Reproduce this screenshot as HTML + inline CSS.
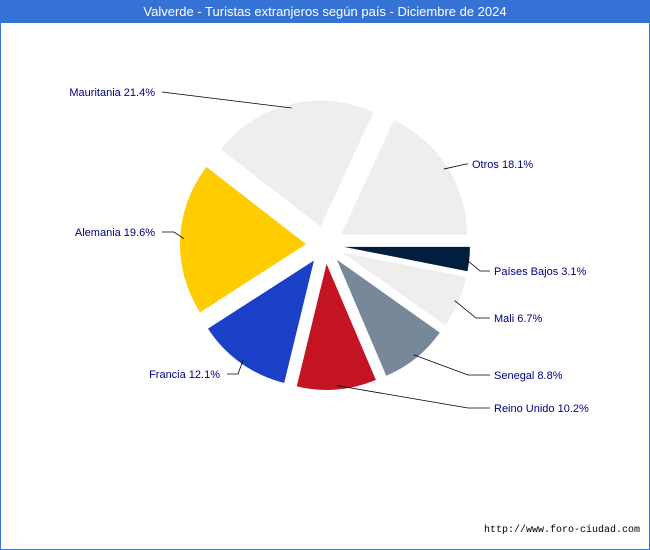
<!DOCTYPE html>
<html><head><meta charset="utf-8"><style>
body{margin:0;background:#fff;font-family:"Liberation Sans","DejaVu Sans",sans-serif}
#wrap{position:relative;width:650px;height:550px;overflow:hidden}
</style></head><body>
<div id="wrap">
<svg id="chart" width="650" height="550">
<rect x="0.5" y="0.5" width="649" height="549" fill="#fff" stroke="#3a74d8"/>
<rect x="0" y="0" width="650" height="23" fill="#3572d6"/>
<text x="325" y="16" text-anchor="middle" fill="#fff" font-size="13">Valverde - Turistas extranjeros según país - Diciembre de 2024</text>
<text x="640" y="532" text-anchor="end" fill="#000" font-size="10" font-family="Liberation Mono, monospace">http://www.foro-ciudad.com</text>
<g id="slices"></g><g id="labels"></g>
</svg>
</div>
<script>
const categories=["Otros","Mauritania","Alemania","Francia","Reino Unido","Senegal","Mali","Países Bajos"];
const values=[18.1,21.4,19.6,12.1,10.2,8.8,6.7,3.1];
const colors=["#eeeeee","#eeeeee","#ffcc00","#1b40c8","#c41424","#778899","#eeeeee","#001f3f"];
// layout: label anchor points (x,y,side) and bend points
const labelPos=[[470,164,"start"],[155,92,"end"],[155,232,"end"],[220,374,"end"],[492,408,"start"],[492,375,"start"],[492,318,"start"],[492,271,"start"]];
const bendPos=[[466,164],[162,92],[174,232],[238,374],[468,408],[468,375],[476,318],[480,271]];
const cx=325,cy=245,r=126,ex=19;
const ns="http://www.w3.org/2000/svg";
const gS=document.getElementById("slices"),gL=document.getElementById("labels");
const total=values.reduce((a,b)=>a+b,0);
let acc=0;
values.forEach((v,i)=>{
  const a0=acc/total*2*Math.PI,a1=(acc+v)/total*2*Math.PI,am=(a0+a1)/2;acc+=v;
  const ox=cx+ex*Math.cos(am),oy=cy-ex*Math.sin(am);
  const x0=ox+r*Math.cos(a0),y0=oy-r*Math.sin(a0),x1=ox+r*Math.cos(a1),y1=oy-r*Math.sin(a1);
  const p=document.createElementNS(ns,"path");
  p.setAttribute("d",`M${ox},${oy}L${x0},${y0}A${r},${r} 0 ${(a1-a0)>Math.PI?1:0} 0 ${x1},${y1}Z`);
  p.setAttribute("fill",colors[i]);
  
  
  gS.appendChild(p);
  const sx=ox+(r-4)*Math.cos(am),sy=oy-(r-4)*Math.sin(am);
  const b=bendPos[i],lp=labelPos[i];
  const l=document.createElementNS(ns,"polyline");
  l.setAttribute("points",`${sx},${sy} ${b[0]},${b[1]} ${lp[2]==="end"?lp[0]+7:lp[0]-2},${lp[1]}`);
  l.setAttribute("fill","none");l.setAttribute("stroke","#000");l.setAttribute("stroke-width","0.8");
  
  
  gL.appendChild(l);
  const t=document.createElementNS(ns,"text");
  t.setAttribute("x",lp[2]==="end"?lp[0]:lp[0]+2);t.setAttribute("y",lp[1]+4);
  t.setAttribute("text-anchor",lp[2]);t.setAttribute("font-size","11");t.setAttribute("fill","#000080");
  t.textContent=categories[i]+" "+v.toFixed(1)+"%";
  
  
  gL.appendChild(t);
});
</script>
</body></html>
